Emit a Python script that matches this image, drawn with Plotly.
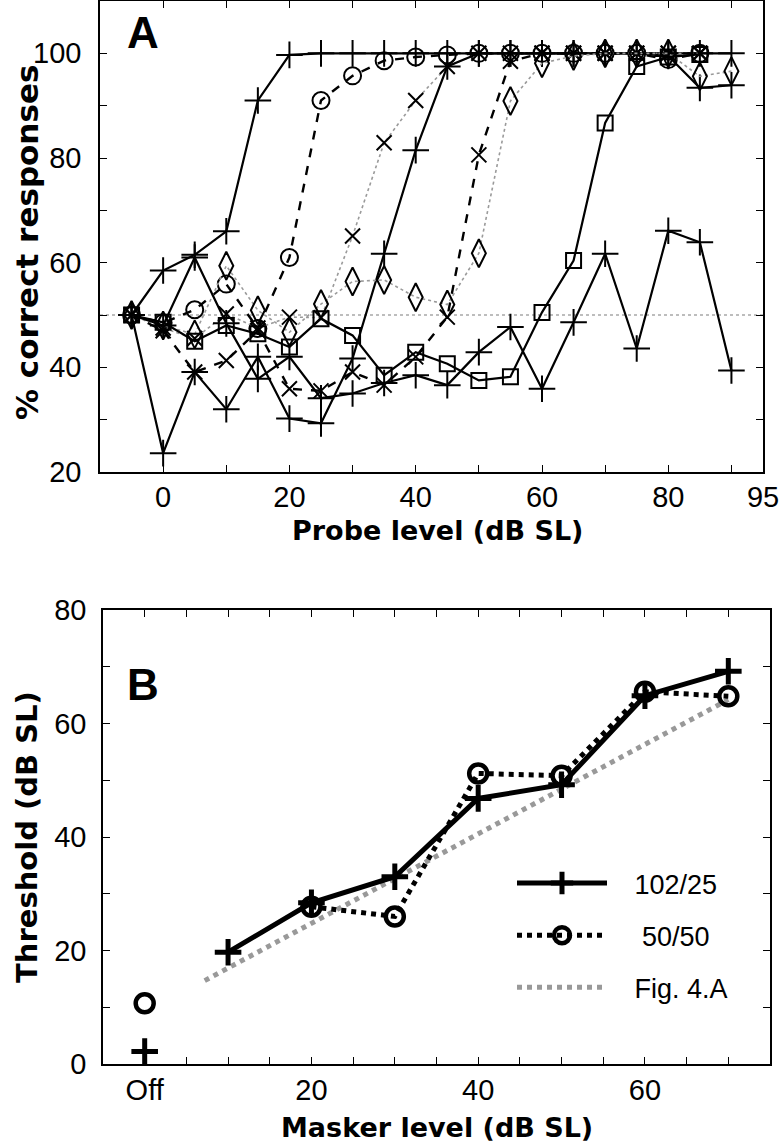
import plotly.graph_objects as go

# ---------------- Panel A data ----------------
probe_levels = [-5, 0, 5, 10, 15, 20, 25, 30, 35, 40, 45, 50, 55, 60, 65, 70, 75, 80, 85, 90]
pc_off = [50, 58.5, 61.5, 66, 91, 99.7, 100, 100, 100, 100, 100, 100, 100, 100, 100, 100, 100, 100, 100, 100]
pc_m10 = [50, 48.5, 51, 55.9, 47.4, 61, 91, 95.7, 98.6, 99.3, 99.7, 100, 100, 100, 100, 100, 100, 98.8, 100, None]
pc_m20 = [50, 47.5, 45.5, 50.2, 47.5, 49.6, 49.5, 65.1, 82.9, 91, 97.5, 100, 100, 100, 100, 100, 100, 100, 100, None]
pc_m30 = [50, 23.6, 39.1, 32, 42, 30.2, 29.3, 41.7, 61.7, 81.5, 97.5, 100, 100, 100, 100, 100, 100, 99.5, 93.4, 93.9]
pc_m40 = [50, 47, 39.1, 41.3, 47, 35.9, 35.5, 39.1, 36.6, 42, 49.6, 80.6, 98.5, 100, 100, 100, 100, 100, 100, None]
pc_m50 = [50, 48, 46.3, 59.4, 50.9, 46.7, 52.1, 56.4, 56.7, 53.4, 52, 61.8, 90.9, 98.1, 99.5, 100, 100, 100, 95.6, 96.6]
pc_m60 = [50, 48.6, 45, 48, 46.4, 43.9, 49.3, 46.1, 38.5, 42.9, 40.7, 37.5, 38.2, 50.5, 60.4, 86.7, 97.5, 99.3, 99.8, None]
pc_m70 = [50, 48, 61, 48.4, 37.8, 42, 34.1, 35, 37, 38.5, 36.6, 42.9, 47.7, 35.9, 48.6, 61.7, 43.6, 66.1, 63.9, 39.4]
chance_level = 50

a_xtickvals = [0, 10, 20, 30, 40, 50, 60, 70, 80, 90, 95]
a_xticktext = ["0", "", "20", "", "40", "", "60", "", "80", "", "95"]
a_ytickvals = [20, 30, 40, 50, 60, 70, 80, 90, 100]
a_yticktext = ["20", "", "40", "", "60", "", "80", "", "100"]

# ---------------- Panel B data ----------------
masker_levels = [10, 20, 30, 40, 50, 60, 70]
thr_102_25 = [19.7, 28.4, 33.0, 46.8, 49.2, 64.9, 69.2]
masker_levels_50 = [20, 30, 40, 50, 60, 70]
thr_50_50 = [27.7, 26.0, 51.2, 50.8, 65.6, 64.8]
off_level = [0]
thr_off_102_25 = [2.2]
thr_off_50_50 = [10.7]
fig4a_x = [7.2, 70]
fig4a_y = [14.7, 64.2]

b_xtickvals = [0, 5, 10, 15, 20, 25, 30, 35, 40, 45, 50, 55, 60, 65, 70]
b_xticktext = ["Off", "", "", "", "20", "", "", "", "40", "", "", "", "60", "", ""]
b_ytickvals = [0, 10, 20, 30, 40, 50, 60, 70, 80]
b_yticktext = ["0", "", "20", "", "40", "", "60", "", "80"]

W, H = 779, 1145
SANS = "Liberation Sans, Arial, Helvetica, sans-serif"
BOLD = "DejaVu Sans, Arial, sans-serif"
NB = "\u00a0"

fig = go.Figure()

GRAY_DOT = "#9a9a9a"
series = [
    (pc_off, "cross-thin-open", "solid", "black", 2.2, 19),
    (pc_m10, "circle-open", "dash", "black", 2.4, 17),
    (pc_m20, "x-thin-open", "dot", GRAY_DOT, 1.6, 15),
    (pc_m30, "cross-thin-open", "solid", "black", 2.2, 19),
    (pc_m40, "x-thin-open", "dash", "black", 2.4, 15),
    (pc_m50, "diamond-tall-open", "dot", GRAY_DOT, 1.6, 20),
    (pc_m60, "square-open", "solid", "black", 2.2, 15),
    (pc_m70, "cross-thin-open", "solid", "black", 2.2, 19),
]

# chance line
fig.add_trace(go.Scatter(x=[-10, 95], y=[chance_level, chance_level], mode="lines",
                         line=dict(color="#a8a8a8", width=1.6, dash="dot"),
                         xaxis="x", yaxis="y", showlegend=False, hoverinfo="skip"))

for ys, sym, dash, lcol, lw, ms in series:
    fig.add_trace(go.Scatter(
        x=probe_levels, y=ys, mode="lines+markers",
        line=dict(color=lcol, width=lw, dash=dash),
        marker=dict(symbol=sym, size=ms, color="black", line=dict(color="black", width=2)),
        xaxis="x", yaxis="y", showlegend=False, connectgaps=False))

# Panel B
fig.add_trace(go.Scatter(x=fig4a_x, y=fig4a_y, mode="lines", name=NB * 3 + "Fig. 4.A",
                         line=dict(color="#999999", width=5, dash="dot"),
                         xaxis="x2", yaxis="y2", legendrank=3, legendgroup="c"))
fig.add_trace(go.Scatter(x=masker_levels_50, y=thr_50_50, mode="lines+markers", name=NB * 4 + "50/50",
                         line=dict(color="black", width=5, dash="dot"),
                         marker=dict(symbol="circle-open", size=18, color="black",
                                     line=dict(color="black", width=4.5)),
                         xaxis="x2", yaxis="y2", legendrank=2, legendgroup="b"))
fig.add_trace(go.Scatter(x=masker_levels, y=thr_102_25, mode="lines+markers", name=NB * 3 + "102/25",
                         line=dict(color="black", width=5),
                         marker=dict(symbol="cross-thin-open", size=19, color="black",
                                     line=dict(color="black", width=5)),
                         xaxis="x2", yaxis="y2", legendrank=1, legendgroup="a"))
fig.add_trace(go.Scatter(x=off_level, y=thr_off_50_50, mode="markers", showlegend=False,
                         marker=dict(symbol="circle-open", size=18, color="black",
                                     line=dict(color="black", width=4.5)),
                         xaxis="x2", yaxis="y2"))
fig.add_trace(go.Scatter(x=off_level, y=thr_off_102_25, mode="markers", showlegend=False,
                         marker=dict(symbol="cross-thin-open", size=19, color="black",
                                     line=dict(color="black", width=5)),
                         xaxis="x2", yaxis="y2"))

def px_x(p):
    return p / W

def px_y(p):
    return 1 - p / H

axis_common = dict(showgrid=False, zeroline=False, showline=True, linecolor="black", linewidth=1.5,
                   mirror="ticks", ticks="inside", ticklen=7, tickwidth=1.3, tickcolor="black",
                   automargin=False, ticklabeloverflow="allow",
                   tickfont=dict(family=SANS, size=29, color="black"))

def title_ann(text, xp, yp, size, angle=0):
    return dict(text="<b>%s</b>" % text, x=px_x(xp), y=px_y(yp), xref="paper", yref="paper",
                xanchor="center", yanchor="middle", showarrow=False, textangle=angle,
                font=dict(family=BOLD, size=size, color="black"))

fig.update_layout(
    width=W, height=H, margin=dict(l=0, r=0, t=0, b=0, pad=0, autoexpand=False),
    paper_bgcolor="white", plot_bgcolor="white",
    xaxis=dict(domain=[px_x(100), px_x(763)], range=[-10, 95], anchor="y",
               tickmode="array", tickvals=a_xtickvals, ticktext=a_xticktext,
               ticklabelstandoff=-2, **axis_common),
    yaxis=dict(domain=[px_y(472), px_y(1)], range=[20, 110], anchor="x",
               tickmode="array", tickvals=a_ytickvals, ticktext=a_yticktext,
               ticklabelstandoff=11, **axis_common),
    xaxis2=dict(domain=[px_x(103), px_x(770)], range=[-5, 75], anchor="y2",
                tickmode="array", tickvals=b_xtickvals, ticktext=b_xticktext,
                ticklabelstandoff=-1, **axis_common),
    yaxis2=dict(domain=[px_y(1064), px_y(610)], range=[0, 80], anchor="x2",
                tickmode="array", tickvals=b_ytickvals, ticktext=b_yticktext,
                ticklabelstandoff=9, **axis_common),
    legend=dict(x=px_x(512), y=px_y(859), xanchor="left", yanchor="top",
                bgcolor="rgba(0,0,0,0)", itemwidth=90, tracegroupgap=14,
                font=dict(family=SANS, size=27, color="black"), traceorder="grouped"),
    annotations=[
        title_ann("Probe level (dB SL)", 437, 530, 27),
        title_ann("% correct responses", 27, 243, 31, -90),
        title_ann("Masker level (dB SL)", 437, 1127, 27),
        title_ann("Threshold (dB SL)", 27, 837, 29, -90),
        dict(text="<b>A</b>", x=px_x(125), y=px_y(6), xref="paper", yref="paper",
             xanchor="left", yanchor="top", showarrow=False,
             font=dict(family=SANS, size=44, color="black")),
        dict(text="<b>B</b>", x=px_x(125), y=px_y(658), xref="paper", yref="paper",
             xanchor="left", yanchor="top", showarrow=False,
             font=dict(family=SANS, size=44, color="black")),
    ],
)

fig.write_html("out.html", config={"displayModeBar": False},
               post_script="document.body.style.margin='0px';")
